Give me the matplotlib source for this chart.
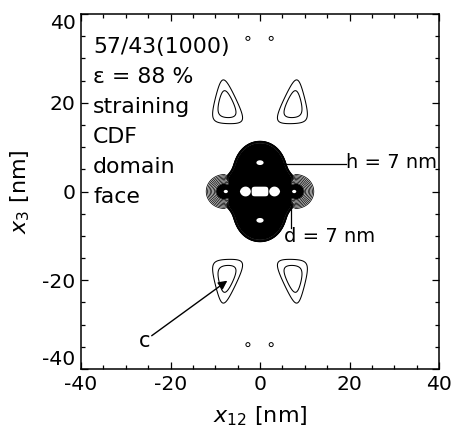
import numpy as np
import matplotlib
matplotlib.use('Agg')
import matplotlib.pyplot as plt
from matplotlib.ticker import MultipleLocator

plt.rcParams['font.family'] = ['DejaVu Sans']
plt.rcParams['axes.unicode_minus'] = False
plt.rcParams['mathtext.fontset'] = 'dejavusans'

# ---------------- data ----------------
x_ticks = [-40, -20, 0, 20, 40]
y_ticks = [-40, -20, 0, 20, 40]
info_lines = ["57/43(1000)", "\u03b5 = 88 %", "straining", "CDF", "domain", "face"]

# central domain peak (nm)
blob_halfwidth = 6.0
blob_shoulder = 0.9      # extra half-width near |x3| = 3 nm
blob_shoulder_y = 3.0
blob_halfheight = 10.9
blob_level = 2.0
# arms of the central peak (concentric rings)
arm_x = [-8.0, 8.0]
arm_amp = 3.73
arm_decay = 1.37
arm_decay_in = 2.5
arm_yscale = 0.95
# white holes inside the black core: (x, y, amplitude, sx, sy)
holes = [(0.0, 6.5, 10.0, 1.2, 0.8),
         (0.0, -6.5, 10.0, 1.2, 0.8),
         (-3.2, 0.0, 10.0, 1.55, 1.55),
         (3.2, 0.0, 10.0, 1.55, 1.55),
         (-7.6, 0.0, 10.0, 0.55, 0.5),
         (7.6, 0.0, 10.0, 0.55, 0.5)]
bar_amp = 10.0
bar_halflength = 2.2
bar_halfheight = 1.55
fill_levels = [1.0, 10.0]
ring_levels = np.geomspace(0.2, 0.93, 8)

# long-period satellites (upper-left one; others are mirror images)
sat_vertices = [(-8.4, 27.2), (-11.4, 15.4), (-2.7, 15.2)]
sat_mirror_x = [1, -1]
sat_mirror_y = [1, -1]
sat_levels = [0.72, 1.02]
sat_sharpness = 2.5

# tiny far-out maxima
dot_x = [-2.7, 2.5]
dot_y = [34.5, -34.5]
dot_radius = 0.45

# ---------------- figure ----------------
fig = plt.figure(figsize=(4.53, 4.30), dpi=100)
ax = fig.add_axes([81/453, 1-369/430, 358/453, 355/430])

# central field
xc = np.linspace(-16, 16, 1001)
Xc, Yc = np.meshgrid(xc, xc)
a_y = blob_halfwidth + blob_shoulder*np.exp(-((np.abs(Yc) - blob_shoulder_y)/1.6)**2)
u = (Xc/a_y)**2 + (np.abs(Yc)/blob_halfheight)**3
F = blob_level*np.exp(-np.log(2)*u**10)
for xa in arm_x:
    dx = np.sign(xa)*(Xc - xa)
    d = np.sqrt(np.maximum(dx, 0)**2 + (Yc/arm_yscale)**2)
    F = F + arm_amp*np.exp(-d/arm_decay)*np.exp(-np.maximum(-dx, 0)/arm_decay_in)
G = bar_amp*np.exp(-((Xc/bar_halflength)**8 + (Yc/bar_halfheight)**4))
for hx, hy, amp, sx, sy in holes:
    G = np.maximum(G, amp*np.exp(-((Xc-hx)**2/(2*sx**2) + (Yc-hy)**2/(2*sy**2))))
F = F + G
ax.contourf(Xc, Yc, F, levels=fill_levels, colors='k', antialiased=True)
ax.contour(Xc, Yc, F, levels=ring_levels, colors='k', linewidths=0.55)

# satellites
xs = np.linspace(-20, 20, 801)
ys = np.linspace(-32, 32, 1281)
Xs, Ys = np.meshgrid(xs, ys)
S = np.full(Xs.shape, np.inf)
for mx in sat_mirror_x:
    for my in sat_mirror_y:
        V = np.array([(mx*vx, my*vy) for vx, vy in sat_vertices])
        c = V.mean(axis=0)
        terms = []
        for i in range(3):
            p1, p2 = V[i], V[(i+1) % 3]
            e = p2 - p1
            n = np.array([e[1], -e[0]])
            n = n/np.linalg.norm(n)
            if np.dot(n, p1 - c) < 0:
                n = -n
            h = np.dot(n, p1 - c)
            terms.append(sat_sharpness*((Xs-c[0])*n[0] + (Ys-c[1])*n[1])/h)
        terms = np.array(terms)
        m = terms.max(axis=0)
        g = (m + np.log(np.exp(terms - m).sum(axis=0)))/sat_sharpness
        S = np.minimum(S, g)
ax.contour(Xs, Ys, S, levels=sat_levels, colors='k', linewidths=0.75)

# tiny dots
xd = np.linspace(-5, 5, 401)
yd = np.linspace(-37, 37, 2961)
Xd, Yd = np.meshgrid(xd, yd)
D = np.zeros(Xd.shape)
for px in dot_x:
    for py in dot_y:
        D = np.maximum(D, np.exp(-((Xd-px)**2 + (Yd-py)**2)/(2*0.5**2)))
ax.contour(Xd, Yd, D, levels=[np.exp(-dot_radius**2/(2*0.5**2))], colors='k', linewidths=0.7)

# annotations
ax.plot([5.4, 19.3], [6.2, 6.2], color='k', lw=0.9)
ax.text(19.2, 5.25, "h = 7 nm", fontsize=14, va='baseline', ha='left')
ax.plot([7.0, 7.0], [-2.8, -8.2], color='k', lw=0.9)
ax.text(5.4, -11.4, "d = 7 nm", fontsize=14, va='baseline', ha='left')
ax.annotate('', xy=(-7.3, -20.1), xytext=(-24.2, -32.5),
            arrowprops=dict(arrowstyle='-|>', color='k', lw=1.0, mutation_scale=13,
                            shrinkA=0, shrinkB=0))
ax.text(-27.0, -35.1, "c", fontsize=15, va='baseline', ha='left')

for i, line in enumerate(info_lines):
    ax.text(-37.3, 31.1 - 6.72*i, line, fontsize=15.8, va='baseline', ha='left')

ax.set_xlim(-40, 40)
ax.set_ylim(-40, 40)
ax.set_xticks(x_ticks)
ax.set_yticks(y_ticks)
ax.xaxis.set_minor_locator(MultipleLocator(5))
ax.yaxis.set_minor_locator(MultipleLocator(5))
ax.tick_params(which='both', direction='in', top=True, right=True, width=0.9)
ax.tick_params(which='major', length=5.0, labelsize=14.6, pad=4)
ax.tick_params(which='minor', length=3.0)
yt = ax.yaxis.get_major_ticks()
yt[0].label1.set_verticalalignment('bottom')
yt[-1].label1.set_verticalalignment('top')
for s in ax.spines.values():
    s.set_linewidth(1.1)
ax.set_xlabel(r'$x_{12}$ [nm]', fontsize=16, labelpad=8)
ax.set_ylabel(r'$x_3$ [nm]', fontsize=16, labelpad=7)

fig.savefig('out.png', dpi=100)
